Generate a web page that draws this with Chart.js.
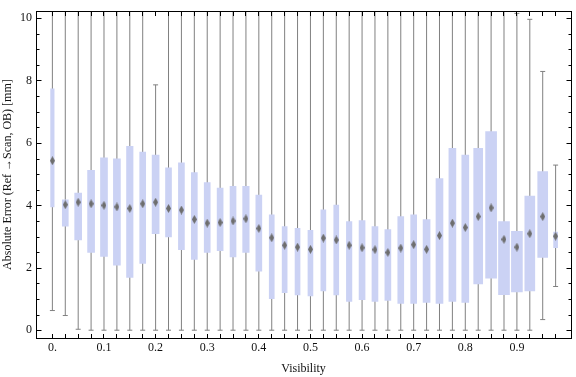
<!DOCTYPE html>
<html>
<head>
<meta charset="utf-8">
<script src="https://cdn.jsdelivr.net/npm/chart.js@4/dist/chart.umd.min.js"></script>
<style>
  html, body { margin: 0; padding: 0; background: #fff; }
  #wrap { width: 576px; height: 377px; }
</style>
</head>
<body>
<div id="wrap"><canvas id="chart" width="576" height="377"></canvas></div>
<script>
// visibility bins
const visibility = [0, 0.025, 0.05, 0.075, 0.1, 0.125, 0.15, 0.175, 0.2, 0.225,
  0.25, 0.275, 0.3, 0.325, 0.35, 0.375, 0.4, 0.425, 0.45, 0.475,
  0.5, 0.525, 0.55, 0.575, 0.6, 0.625, 0.65, 0.675, 0.7, 0.725,
  0.75, 0.775, 0.8, 0.825, 0.85, 0.875, 0.9, 0.925, 0.95, 0.975];

const q1 = [3.95, 3.33, 2.89, 2.49, 2.36, 2.08, 1.69, 2.14, 3.09, 2.99,
  2.58, 2.27, 2.49, 2.55, 2.35, 2.49, 1.89, 1.01, 1.20, 1.13,
  1.10, 1.26, 1.13, 0.92, 0.98, 0.92, 0.95, 0.86, 0.86, 0.89,
  0.86, 0.92, 0.89, 1.48, 1.67, 1.14, 1.23, 1.26, 2.33, 2.64];

const q3 = [7.73, 4.18, 4.39, 5.12, 5.52, 5.49, 5.89, 5.71, 5.61, 5.20,
  5.36, 5.05, 4.73, 4.55, 4.61, 4.61, 4.33, 3.70, 3.32, 3.26,
  3.20, 3.86, 4.01, 3.48, 3.51, 3.32, 3.22, 3.64, 3.70, 3.54,
  4.86, 5.83, 5.61, 5.83, 6.36, 3.48, 3.17, 4.30, 5.08, 3.14];

const meanErr = [5.43, 4.02, 4.10, 4.05, 4.00, 3.95, 3.90, 4.05, 4.10, 3.90,
  3.85, 3.55, 3.43, 3.45, 3.50, 3.57, 3.26, 2.96, 2.72, 2.66,
  2.59, 2.95, 2.89, 2.72, 2.64, 2.58, 2.49, 2.63, 2.74, 2.59,
  3.03, 3.43, 3.29, 3.64, 3.92, 2.91, 2.66, 3.09, 3.64, 3.01];

const whiskerLow = [0.63, 0.47, 0.03, 0, 0, 0, 0, 0, 0, 0,
  0, 0, 0, 0, 0, 0, 0, 0, 0, 0,
  0, 0, 0, 0, 0, 0, 0, 0, 0, 0,
  0, 0, 0, 0, 0, 0, 0, 0, 0.34, 1.40];

// most upper whiskers run past the top of the frame
const whiskerHigh = [10.6, 10.6, 10.6, 10.6, 10.6, 10.6, 10.6, 10.6, 7.86, 10.6,
  10.6, 10.6, 10.6, 10.6, 10.6, 10.6, 10.6, 10.6, 10.6, 10.6,
  10.6, 10.6, 10.6, 10.6, 10.6, 10.6, 10.6, 10.6, 10.6, 10.6,
  10.6, 10.6, 10.6, 10.6, 10.6, 10.6, 10.15, 9.96, 8.29, 5.29];

const yTickValues = [0, 0.5, 1, 1.5, 2, 2.5, 3, 3.5, 4, 4.5, 5, 5.5, 6, 6.5, 7, 7.5, 8, 8.5, 9, 9.5, 10];
const yMajor = [0, 2, 4, 6, 8, 10];
const xLabelValues = [0, 0.1, 0.2, 0.3, 0.4, 0.5, 0.6, 0.7, 0.8, 0.9];
const xTickLabels = ['0.', '0.1', '0.2', '0.3', '0.4', '0.5', '0.6', '0.7', '0.8', '0.9'];

// box widths in px (vary per bin in the original)
const boxPx = [3.5, 6, 7, 7, 7, 7, 6.5, 6, 7, 6,
  6, 6, 6, 6, 6, 6.5, 6, 5, 5, 5,
  5, 5, 5, 5.5, 6, 6, 6, 6, 6, 7,
  7, 7, 7, 9, 11, 11, 11, 10, 10, 4];

const BOX = '#cbd2f4';
const WHISK = '#808080';
const INK = '#111';
const serif = "'Liberation Serif', 'DejaVu Serif', serif";

// tall diamond marker for the mean
const dia = document.createElement('canvas');
dia.width = 5; dia.height = 9;
const g = dia.getContext('2d');
g.fillStyle = '#6e6e6e';
g.beginPath();
g.moveTo(2.5, 0); g.lineTo(5, 4.5); g.lineTo(2.5, 9); g.lineTo(0, 4.5);
g.closePath(); g.fill();

const boxSets = visibility.map((v, i) => ({
  type: 'bar',
  data: [{ x: v, y: [q1[i], q3[i]] }],
  backgroundColor: BOX,
  barThickness: boxPx[i],
  grouped: false,
  order: 1,
  clip: 0
}));

const frameTicks = {
  id: 'frameTicks',
  afterDatasetsDraw(chart) {
    const { ctx, chartArea: a, scales: { x, y } } = chart;
    const L = Math.floor(a.left) + 0.5, R = Math.floor(a.right) + 0.5;
    const T = Math.floor(a.top) + 0.5, B = Math.floor(a.bottom) + 0.5;
    ctx.save();
    ctx.strokeStyle = '#000';
    ctx.lineWidth = 1;
    ctx.strokeRect(L, T, R - L, B - T);
    ctx.beginPath();
    x.ticks.forEach(t => {
      const px = Math.floor(x.getPixelForValue(t.value)) + 0.5;
      ctx.moveTo(px, B); ctx.lineTo(px, B - 4.5);
      ctx.moveTo(px, T); ctx.lineTo(px, T + 4.5);
    });
    y.ticks.forEach(t => {
      const py = Math.round(y.getPixelForValue(t.value)) + 0.5;
      const len = yMajor.includes(t.value) ? 5 : 3;
      ctx.moveTo(L, py); ctx.lineTo(L + len, py);
      ctx.moveTo(R, py); ctx.lineTo(R - len, py);
    });
    ctx.stroke();
    ctx.restore();
  }
};

new Chart(document.getElementById('chart'), {
  type: 'bar',
  data: {
    datasets: [
      {
        type: 'scatter',
        data: visibility.map((v, i) => ({ x: v, y: meanErr[i] })),
        pointStyle: dia,
        pointRadius: 4,
        order: 0,
        clip: 0
      },
      ...boxSets,
      {
        type: 'scatter',
        data: visibility.flatMap((v, i) => [{ x: v, y: whiskerLow[i] }, { x: v, y: whiskerHigh[i] }]),
        pointStyle: 'line',
        pointRadius: 2.5,
        borderColor: WHISK,
        borderWidth: 1,
        order: 2,
        clip: 0
      },
      {
        type: 'bar',
        data: visibility.map((v, i) => ({ x: v, y: [whiskerLow[i], whiskerHigh[i]] })),
        backgroundColor: WHISK,
        barThickness: 1,
        inflateAmount: 0,
        grouped: false,
        order: 3,
        clip: 0
      }
    ]
  },
  options: {
    responsive: false,
    animation: false,
    events: [],
    layout: { padding: { top: 4, right: 1, left: 0, bottom: 0 } },
    plugins: {
      legend: { display: false },
      tooltip: { enabled: false }
    },
    scales: {
      x: {
        type: 'linear',
        min: -0.03173,
        max: 1.00481,
        offset: false,
        grid: { display: false, drawTicks: false },
        border: { display: false },
        afterBuildTicks: s => { s.ticks = visibility.map(v => ({ value: v })); },
        afterFit: s => { s.height = 39; },
        ticks: {
          autoSkip: false,
          maxRotation: 0,
          padding: 3,
          color: INK,
          font: { family: serif, size: 12 },
          callback: (value) => {
            const k = xLabelValues.findIndex(v => Math.abs(v - value) < 1e-6);
            return k >= 0 ? xTickLabels[k] : '';
          }
        },
        title: {
          display: true,
          text: 'Visibility',
          color: INK,
          font: { family: serif, size: 12 },
          padding: { top: 0, bottom: 1 }
        }
      },
      y: {
        type: 'linear',
        min: -0.25,
        max: 10.22,
        grid: { display: false, drawTicks: false },
        border: { display: false },
        afterBuildTicks: s => { s.ticks = yTickValues.map(v => ({ value: v })); },
        afterFit: s => { s.width = 36; },
        ticks: {
          autoSkip: false,
          padding: 4,
          color: INK,
          font: { family: serif, size: 12 },
          callback: (value) => yMajor.includes(value) ? String(value) : ''
        },
        title: {
          display: true,
          text: 'Absolute Error (Ref \u2192Scan, OB) [mm]',
          color: INK,
          font: { family: serif, size: 12 },
          padding: { top: 1, bottom: 0 }
        }
      }
    }
  },
  plugins: [frameTicks]
});
</script>
</body>
</html>
